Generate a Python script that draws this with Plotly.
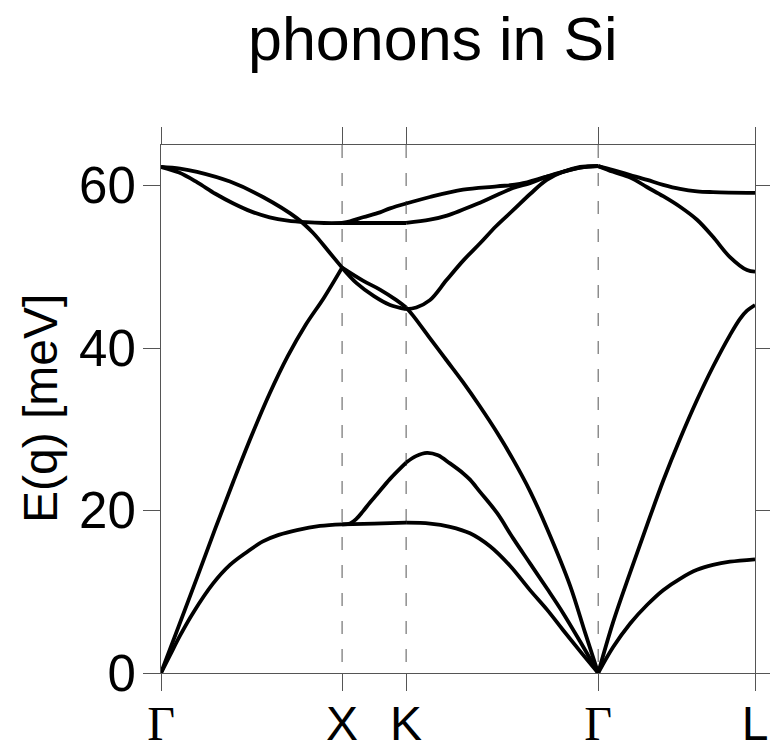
import plotly.graph_objects as go

# High-symmetry points along the path (units of 2*pi/a, cumulative path length)
sym_pos = [0.0, 1.0, 1.3536, 2.4142, 3.2802]
sym_labels = ["Γ", "X", "K", "Γ", "L"]
dashed_pos = [1.0, 1.3536, 2.4142]
y_ticks = [0, 20, 40, 60]

# ---- Gamma - X ----
GX_TA_q = [0, 0.05, 0.105, 0.177, 0.287, 0.381, 0.475, 0.563, 0.65, 0.751, 0.878, 1.0]
GX_TA_E = [0, 2.2, 4.6, 7.4, 11.0, 13.3, 14.9, 16.2, 17.0, 17.6, 18.1, 18.3]
GX_LA_q = [0, 0.1, 0.2, 0.3, 0.4, 0.5, 0.6, 0.7, 0.8, 0.9, 1.0]
GX_LA_E = [0, 5.9, 11.8, 17.8, 23.6, 29.2, 34.4, 39.0, 42.9, 46.2, 49.9]
GX_LO_q = [0, 0.105, 0.199, 0.381, 0.563, 0.75, 0.839, 0.933, 1.0]
GX_LO_E = [62.3, 62.1, 61.7, 60.5, 58.6, 56.0, 54.2, 51.7, 49.9]
GX_TO_q = [0, 0.1, 0.2, 0.3, 0.4, 0.5, 0.6, 0.7, 0.8, 0.9, 1.0]
GX_TO_E = [62.3, 61.6, 60.4, 59.0, 57.8, 56.8, 56.1, 55.7, 55.5, 55.4, 55.4]

# ---- X - K ----
XK_TA1_q = [1.0, 1.1768, 1.3536]
XK_TA1_E = [18.3, 18.4, 18.5]
XK_TA2_q = [1.0, 1.044, 1.08, 1.115, 1.154, 1.193, 1.265, 1.3536]
XK_TA2_E = [18.3, 18.4, 19.0, 19.9, 21.0, 22.0, 23.9, 25.9]
XK_LA_q = [1.0, 1.115, 1.209, 1.3, 1.3536]
XK_LA_E = [49.9, 48.3, 47.2, 45.9, 45.0]
XK_LO_q = [1.0, 1.08, 1.176, 1.265, 1.3536]
XK_LO_E = [49.9, 48.0, 46.4, 45.3, 44.8]
XK_TO1_q = [1.0, 1.1768, 1.3536]
XK_TO1_E = [55.4, 55.4, 55.4]
XK_TO2_q = [1.0, 1.044, 1.115, 1.209, 1.265, 1.3536]
XK_TO2_E = [55.4, 55.6, 56.1, 56.7, 57.2, 57.8]

# ---- K - Gamma ----
KG_TA1_q = [1.3536, 1.4855, 1.5959, 1.7064, 1.8168, 1.9272, 2.0377, 2.1316, 2.2199, 2.3138, 2.4142]
KG_TA1_E = [18.5, 18.4, 18.0, 17.2, 15.6, 13.2, 10.2, 7.8, 5.3, 2.7, 0]
KG_TA2_q = [1.3536, 1.4081, 1.4689, 1.5296, 1.5959, 1.6677, 1.7064, 1.7616, 1.8555, 1.9438,
            2.0377, 2.1316, 2.2199, 2.3138, 2.4142]
KG_TA2_E = [25.9, 26.7, 27.1, 26.8, 25.8, 24.6, 23.8, 22.3, 19.7, 16.6, 13.5, 10.4, 7.4, 3.9, 0]
KG_LA_q = [1.3536, 1.392, 1.4857, 1.5767, 1.6677, 1.7616, 1.8555, 1.9438, 2.0377, 2.1316,
           2.2585, 2.3415, 2.4142]
KG_LA_E = [45.0, 44.0, 41.2, 38.5, 35.8, 32.8, 29.6, 26.3, 22.4, 17.8, 10.8, 5.0, 0]
KG_LO_q = [1.3536, 1.41, 1.485, 1.578, 1.67, 1.762, 1.85, 1.946, 2.04, 2.13, 2.22, 2.314, 2.4142]
KG_LO_E = [44.8, 45.0, 45.9, 48.4, 50.8, 52.9, 55.0, 57.0, 59.0, 60.7, 61.7, 62.3, 62.4]
KG_TO1_q = [1.3536, 1.485, 1.668, 1.855, 1.982, 2.131, 2.314, 2.4142]
KG_TO1_E = [57.8, 58.6, 59.5, 59.9, 60.2, 61.1, 62.2, 62.4]
KG_TO2_q = [1.3536, 1.485, 1.579, 1.762, 1.944, 2.038, 2.131, 2.314, 2.4142]
KG_TO2_E = [55.4, 55.8, 56.3, 57.9, 59.7, 60.3, 61.1, 62.2, 62.4]

# ---- Gamma - L ----
GL_TA_q = [2.4142, 2.497, 2.591, 2.685, 2.773, 2.866, 2.96, 3.048, 3.142, 3.2802]
GL_TA_E = [0, 3.2, 6.1, 8.4, 10.2, 11.6, 12.7, 13.3, 13.7, 14.0]
GL_LA_q = [2.4142, 2.4971, 2.591, 2.6838, 2.7721, 2.866, 2.9599, 3.0482, 3.1421, 3.1973, 3.236, 3.2802]
GL_LA_E = [0, 6.3, 12.4, 18.2, 23.6, 28.8, 33.6, 37.7, 41.6, 43.6, 44.6, 45.3]
GL_TO_q = [2.4142, 2.497, 2.591, 2.685, 2.773, 2.866, 2.96, 3.048, 3.2802]
GL_TO_E = [62.4, 61.9, 61.3, 60.7, 60.1, 59.6, 59.3, 59.2, 59.1]
GL_LO_q = [2.4142, 2.497, 2.591, 2.685, 2.773, 2.866, 2.96, 3.048, 3.142, 3.236, 3.2802]
GL_LO_E = [62.4, 61.7, 61.0, 59.8, 58.7, 57.4, 55.8, 53.7, 51.2, 49.6, 49.4]

branches = [
    (GX_TA_q, GX_TA_E), (GX_LA_q, GX_LA_E), (GX_LO_q, GX_LO_E), (GX_TO_q, GX_TO_E),
    (XK_TA1_q, XK_TA1_E), (XK_TA2_q, XK_TA2_E), (XK_LA_q, XK_LA_E), (XK_LO_q, XK_LO_E),
    (XK_TO1_q, XK_TO1_E), (XK_TO2_q, XK_TO2_E),
    (KG_TA1_q, KG_TA1_E), (KG_TA2_q, KG_TA2_E), (KG_LA_q, KG_LA_E), (KG_LO_q, KG_LO_E),
    (KG_TO1_q, KG_TO1_E), (KG_TO2_q, KG_TO2_E),
    (GL_TA_q, GL_TA_E), (GL_LA_q, GL_LA_E), (GL_TO_q, GL_TO_E), (GL_LO_q, GL_LO_E),
]

SANS = "Liberation Sans, Arial, Helvetica, sans-serif"
SERIF = "Liberation Serif, Times New Roman, serif"

fig = go.Figure()
for q, e in branches:
    fig.add_trace(go.Scatter(
        x=q, y=e, mode="lines",
        line=dict(color="black", width=3.8, shape="spline", smoothing=1.0),
        showlegend=False, hoverinfo="skip",
    ))

for xp in dashed_pos:
    fig.add_shape(type="line", xref="x", yref="paper", x0=xp, x1=xp, y0=1, y1=0,
                  line=dict(color="#555555", width=1, dash="13px,15px"), layer="below")

tick_text = []
for lab in sym_labels:
    if lab == "Γ":
        tick_text.append(f"<span style='font-family:{SERIF}'>{lab}</span>")
    else:
        tick_text.append(lab)

axis_common = dict(
    showline=True, linecolor="#555555", linewidth=1, automargin=False,
    mirror="ticks", ticks="outside", ticklen=17, tickwidth=1, tickcolor="#555555",
    showgrid=False, zeroline=False,
)

fig.update_xaxes(range=[sym_pos[0], sym_pos[-1]], tickmode="array",
                 tickvals=sym_pos, ticktext=tick_text, ticklabelstandoff=-9,
                 tickfont=dict(family=SANS, size=48, color="black"), **axis_common)
fig.update_yaxes(range=[0, 65], tickmode="array", tickvals=y_ticks,
                 ticktext=[str(v) for v in y_ticks], ticklabelstandoff=-3,
                 tickfont=dict(family=SANS, size=51, color="black"), **axis_common)

fig.add_annotation(text="phonons in Si", xref="paper", yref="paper",
                   x=0.4579, y=1.2008, xanchor="center", yanchor="middle",
                   showarrow=False, font=dict(family=SANS, size=61, color="black"))
fig.add_annotation(text="E(q) [meV]", xref="paper", yref="paper",
                   x=-0.2037, y=0.5, xanchor="center", yanchor="middle", textangle=-90,
                   showarrow=False, font=dict(family=SANS, size=48, color="black"))

fig.update_layout(
    width=770, height=746,
    margin=dict(l=161, r=15, t=145, b=73, pad=0, autoexpand=False),
    plot_bgcolor="white", paper_bgcolor="white",
)

fig.write_html("out.html")
